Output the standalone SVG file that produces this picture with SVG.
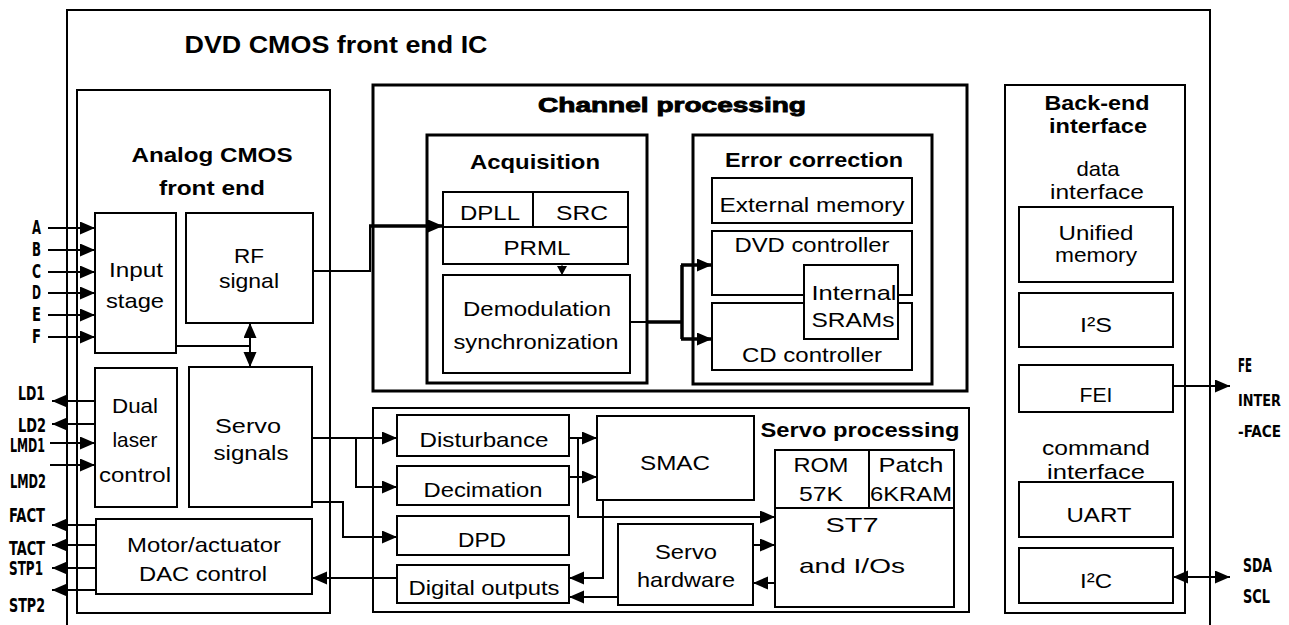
<svg xmlns="http://www.w3.org/2000/svg" width="1289" height="625" viewBox="0 0 1289 625">
<style>
.b{fill:#fff;stroke:#000;stroke-width:2}
.t{stroke-width:3}
.f{fill:none;stroke:#000;stroke-width:2}
text{font-family:"Liberation Sans",Arial,sans-serif;font-size:21px;fill:#000;text-anchor:middle}
.h{font-weight:bold}
.x{font-weight:bold;stroke:#000;stroke-width:0.9}
.p{font-family:"DejaVu Sans Condensed","Liberation Sans Narrow","DejaVu Sans",sans-serif;font-size:19px;font-weight:bold;text-anchor:start}
.q{font-size:16px}
.w{fill:none;stroke:#000;stroke-width:2}
.k{stroke-width:3.5}
</style>
<defs>
<marker id="a" markerUnits="userSpaceOnUse" markerWidth="16" markerHeight="14" refX="15" refY="6.5" orient="auto-start-reverse"><path d="M0,0L15,6.5L0,13z" fill="#000"/></marker>
<marker id="s" markerUnits="userSpaceOnUse" markerWidth="11" markerHeight="11" refX="9" refY="5" orient="auto"><path d="M0,0L9,5L0,10z" fill="#000"/></marker>
</defs>
<rect width="1289" height="625" fill="#fff"/>

<g id="frame">
<path class="f" d="M67,625V10H1210V625"/>
<text class="h" x="336" y="53" textLength="303" lengthAdjust="spacingAndGlyphs" style="font-size:24px">DVD CMOS front end IC</text>
</g>

<g id="analog-front-end">
<rect class="b" x="77" y="90" width="253" height="523"/>
<text class="h" x="212" y="162" textLength="161" lengthAdjust="spacingAndGlyphs">Analog CMOS</text>
<text class="h" x="212" y="195" textLength="106" lengthAdjust="spacingAndGlyphs">front end</text>
</g>
<g id="input-stage">
<rect class="b" x="95" y="213" width="81" height="140"/>
<text x="136" y="277" textLength="54" lengthAdjust="spacingAndGlyphs">Input</text>
<text x="135" y="308" textLength="58" lengthAdjust="spacingAndGlyphs">stage</text>
</g>
<g id="rf-signal">
<rect class="b" x="186" y="213" width="127" height="110"/>
<text x="249" y="263" textLength="30" lengthAdjust="spacingAndGlyphs">RF</text>
<text x="249" y="288" textLength="60" lengthAdjust="spacingAndGlyphs">signal</text>
</g>
<g id="dual-laser">
<rect class="b" x="95" y="368" width="82" height="139"/>
<text x="135" y="413" textLength="46" lengthAdjust="spacingAndGlyphs">Dual</text>
<text x="135" y="447" textLength="45" lengthAdjust="spacingAndGlyphs">laser</text>
<text x="135" y="482" textLength="72" lengthAdjust="spacingAndGlyphs">control</text>
</g>
<g id="servo-signals">
<rect class="b" x="189" y="367" width="123" height="140"/>
<text x="248" y="433" textLength="66" lengthAdjust="spacingAndGlyphs">Servo</text>
<text x="251" y="460" textLength="75" lengthAdjust="spacingAndGlyphs">signals</text>
</g>
<g id="motor-dac">
<rect class="b" x="96" y="519" width="216" height="75"/>
<text x="204" y="552" textLength="154" lengthAdjust="spacingAndGlyphs">Motor/actuator</text>
<text x="203" y="581" textLength="128" lengthAdjust="spacingAndGlyphs">DAC control</text>
</g>

<g id="channel-processing">
<rect class="b t" x="373" y="85" width="594" height="306"/>
<text class="x" x="672" y="112" textLength="268" lengthAdjust="spacingAndGlyphs">Channel processing</text>
</g>
<g id="acquisition">
<rect class="b t" x="427" y="135" width="220" height="248"/>
<text class="h" x="535" y="169" textLength="130" lengthAdjust="spacingAndGlyphs">Acquisition</text>
</g>
<g id="dpll-src-prml">
<rect class="b" x="443" y="192" width="185" height="72"/>
<path class="f" d="M443,227H628M533,192V227"/>
<text x="490" y="220" textLength="60" lengthAdjust="spacingAndGlyphs">DPLL</text>
<text x="582" y="220" textLength="52" lengthAdjust="spacingAndGlyphs">SRC</text>
<text x="537" y="255" textLength="67" lengthAdjust="spacingAndGlyphs">PRML</text>
</g>
<g id="demodulation">
<rect class="b" x="443" y="275" width="187" height="98"/>
<text x="537" y="316" textLength="148" lengthAdjust="spacingAndGlyphs">Demodulation</text>
<text x="536" y="349" textLength="165" lengthAdjust="spacingAndGlyphs">synchronization</text>
</g>
<g id="error-correction">
<rect class="b t" x="693" y="135" width="239" height="249"/>
<text class="h" x="814" y="167" textLength="178" lengthAdjust="spacingAndGlyphs">Error correction</text>
</g>
<g id="external-memory">
<rect class="b" x="712" y="178" width="200" height="45"/>
<text x="812" y="212" textLength="185" lengthAdjust="spacingAndGlyphs">External memory</text>
</g>
<g id="dvd-controller">
<rect class="b" x="712" y="231" width="200" height="64"/>
<text x="812" y="252" textLength="155" lengthAdjust="spacingAndGlyphs">DVD controller</text>
</g>
<g id="cd-controller">
<rect class="b" x="712" y="303" width="200" height="67"/>
<text x="812" y="362" textLength="140" lengthAdjust="spacingAndGlyphs">CD controller</text>
</g>
<g id="internal-srams">
<rect class="b" x="804" y="265" width="94" height="74"/>
<text x="854" y="300" textLength="85" lengthAdjust="spacingAndGlyphs">Internal</text>
<text x="853" y="327" textLength="83" lengthAdjust="spacingAndGlyphs">SRAMs</text>
</g>

<g id="servo-processing">
<rect class="b" x="373" y="408" width="596" height="204"/>
<text class="h" x="860" y="437" textLength="199" lengthAdjust="spacingAndGlyphs">Servo processing</text>
</g>
<g id="disturbance">
<rect class="b" x="397" y="415" width="172" height="41"/>
<text x="484" y="447" textLength="129" lengthAdjust="spacingAndGlyphs">Disturbance</text>
</g>
<g id="decimation">
<rect class="b" x="397" y="466" width="172" height="39"/>
<text x="483" y="497" textLength="119" lengthAdjust="spacingAndGlyphs">Decimation</text>
</g>
<g id="dpd">
<rect class="b" x="397" y="516" width="172" height="39"/>
<text x="482" y="547" textLength="48" lengthAdjust="spacingAndGlyphs">DPD</text>
</g>
<g id="digital-outputs">
<rect class="b" x="397" y="565" width="172" height="38"/>
<text x="484" y="595" textLength="151" lengthAdjust="spacingAndGlyphs">Digital outputs</text>
</g>
<g id="smac">
<rect class="b" x="597" y="416" width="157" height="84"/>
<text x="675" y="470" textLength="70" lengthAdjust="spacingAndGlyphs">SMAC</text>
</g>
<g id="servo-hardware">
<rect class="b" x="618" y="524" width="135" height="81"/>
<text x="686" y="559" textLength="62" lengthAdjust="spacingAndGlyphs">Servo</text>
<text x="686" y="587" textLength="98" lengthAdjust="spacingAndGlyphs">hardware</text>
</g>
<g id="st7">
<rect class="b" x="775" y="450" width="179" height="157"/>
<path class="f" d="M775,508H954M869,450V508"/>
<text x="821" y="472" textLength="55" lengthAdjust="spacingAndGlyphs">ROM</text>
<text x="821" y="501" textLength="44" lengthAdjust="spacingAndGlyphs">57K</text>
<text x="911" y="472" textLength="65" lengthAdjust="spacingAndGlyphs">Patch</text>
<text x="911" y="501" textLength="82" lengthAdjust="spacingAndGlyphs">6KRAM</text>
<text x="852" y="532" textLength="53" lengthAdjust="spacingAndGlyphs">ST7</text>
<text x="852" y="573" textLength="106" lengthAdjust="spacingAndGlyphs">and I/Os</text>
</g>

<g id="back-end-interface">
<rect class="b" x="1005" y="85" width="180" height="528"/>
<text class="h" x="1097" y="110" textLength="105" lengthAdjust="spacingAndGlyphs">Back-end</text>
<text class="h" x="1098" y="133" textLength="98" lengthAdjust="spacingAndGlyphs">interface</text>
<text x="1098" y="176" textLength="43" lengthAdjust="spacingAndGlyphs">data</text>
<text x="1097" y="199" textLength="94" lengthAdjust="spacingAndGlyphs">interface</text>
<text x="1096" y="455" textLength="108" lengthAdjust="spacingAndGlyphs">command</text>
<text x="1096" y="479" textLength="98" lengthAdjust="spacingAndGlyphs">interface</text>
</g>
<g id="unified-memory">
<rect class="b" x="1019" y="207" width="154" height="75"/>
<text x="1096" y="240" textLength="75" lengthAdjust="spacingAndGlyphs">Unified</text>
<text x="1096" y="262" textLength="82" lengthAdjust="spacingAndGlyphs">memory</text>
</g>
<g id="i2s">
<rect class="b" x="1019" y="293" width="154" height="54"/>
<text x="1096" y="332" textLength="32" lengthAdjust="spacingAndGlyphs">I²S</text>
</g>
<g id="fei">
<rect class="b" x="1019" y="365" width="154" height="47"/>
<text x="1096" y="402" textLength="33" lengthAdjust="spacingAndGlyphs">FEI</text>
</g>
<g id="uart">
<rect class="b" x="1019" y="482" width="154" height="55"/>
<text x="1099" y="522" textLength="65" lengthAdjust="spacingAndGlyphs">UART</text>
</g>
<g id="i2c">
<rect class="b" x="1019" y="548" width="154" height="55"/>
<text x="1096" y="588" textLength="32" lengthAdjust="spacingAndGlyphs">I²C</text>
</g>

<g id="pins">
<text class="p" x="32" y="234" textLength="9" lengthAdjust="spacingAndGlyphs">A</text>
<text class="p" x="32" y="256" textLength="9" lengthAdjust="spacingAndGlyphs">B</text>
<text class="p" x="32" y="278" textLength="9" lengthAdjust="spacingAndGlyphs">C</text>
<text class="p" x="32" y="299" textLength="9" lengthAdjust="spacingAndGlyphs">D</text>
<text class="p" x="32" y="321" textLength="9" lengthAdjust="spacingAndGlyphs">E</text>
<text class="p" x="32" y="343" textLength="9" lengthAdjust="spacingAndGlyphs">F</text>
<text class="p" x="18" y="400" textLength="27" lengthAdjust="spacingAndGlyphs">LD1</text>
<text class="p" x="18" y="432" textLength="28" lengthAdjust="spacingAndGlyphs">LD2</text>
<text class="p" x="10" y="452" textLength="35" lengthAdjust="spacingAndGlyphs">LMD1</text>
<text class="p" x="10" y="488" textLength="36" lengthAdjust="spacingAndGlyphs">LMD2</text>
<text class="p" x="9" y="522" textLength="36" lengthAdjust="spacingAndGlyphs">FACT</text>
<text class="p" x="9" y="555" textLength="36" lengthAdjust="spacingAndGlyphs">TACT</text>
<text class="p" x="9" y="575" textLength="34" lengthAdjust="spacingAndGlyphs">STP1</text>
<text class="p" x="9" y="612" textLength="36" lengthAdjust="spacingAndGlyphs">STP2</text>
<text class="p" x="1238" y="372" textLength="14" lengthAdjust="spacingAndGlyphs">FE</text>
<text class="p q" x="1238" y="406" textLength="43" lengthAdjust="spacingAndGlyphs">INTER</text>
<text class="p q" x="1238" y="437" textLength="43" lengthAdjust="spacingAndGlyphs">-FACE</text>
<text class="p" x="1243" y="572" textLength="29" lengthAdjust="spacingAndGlyphs">SDA</text>
<text class="p" x="1243" y="603" textLength="27" lengthAdjust="spacingAndGlyphs">SCL</text>
</g>

<g id="connectors" class="w">
<path d="M48,228H95" marker-end="url(#a)"/>
<path d="M48,250H95" marker-end="url(#a)"/>
<path d="M48,272H95" marker-end="url(#a)"/>
<path d="M48,293H95" marker-end="url(#a)"/>
<path d="M48,315H95" marker-end="url(#a)"/>
<path d="M48,337H95" marker-end="url(#a)"/>
<path d="M95,401H52" marker-end="url(#a)"/>
<path d="M95,424H52" marker-end="url(#a)"/>
<path d="M50,443H95" marker-end="url(#a)"/>
<path d="M50,465H95" marker-end="url(#a)"/>
<path d="M96,525H52" marker-end="url(#a)"/>
<path d="M96,545H52" marker-end="url(#a)"/>
<path d="M96,568H52" marker-end="url(#a)"/>
<path d="M96,590H52" marker-end="url(#a)"/>
<path d="M176,346H250"/>
<path d="M250,323V367" marker-start="url(#a)" marker-end="url(#a)"/>
<path d="M313,271H370V226"/>
<path class="k" d="M369,226H443" marker-end="url(#a)"/>
<path d="M562,264V275" stroke-width="1" marker-end="url(#s)"/>
<path d="M630,322H650"/>
<path class="k" d="M648,322H682"/>
<path class="k" d="M682,265V339"/>
<path class="k" d="M681,265H712" marker-end="url(#a)"/>
<path class="k" d="M681,339H712" marker-end="url(#a)"/>
<path d="M312,438H397" marker-end="url(#a)"/>
<path d="M356,438V487H397" marker-end="url(#a)"/>
<path d="M312,502H343V537H397" marker-end="url(#a)"/>
<path d="M397,578H312" marker-end="url(#a)"/>
<path d="M569,438H597" marker-end="url(#a)"/>
<path d="M578,438V517H775" marker-end="url(#a)"/>
<path d="M569,477H597" marker-end="url(#a)"/>
<path d="M603,500V578H569" marker-end="url(#a)"/>
<path d="M618,597H569" marker-end="url(#a)"/>
<path d="M753,545H775" marker-end="url(#a)"/>
<path d="M775,583H753" marker-end="url(#a)"/>
<path d="M1173,386H1230" marker-end="url(#a)"/>
<path d="M1173,577H1230" marker-start="url(#a)" marker-end="url(#a)"/>
</g>
</svg>
